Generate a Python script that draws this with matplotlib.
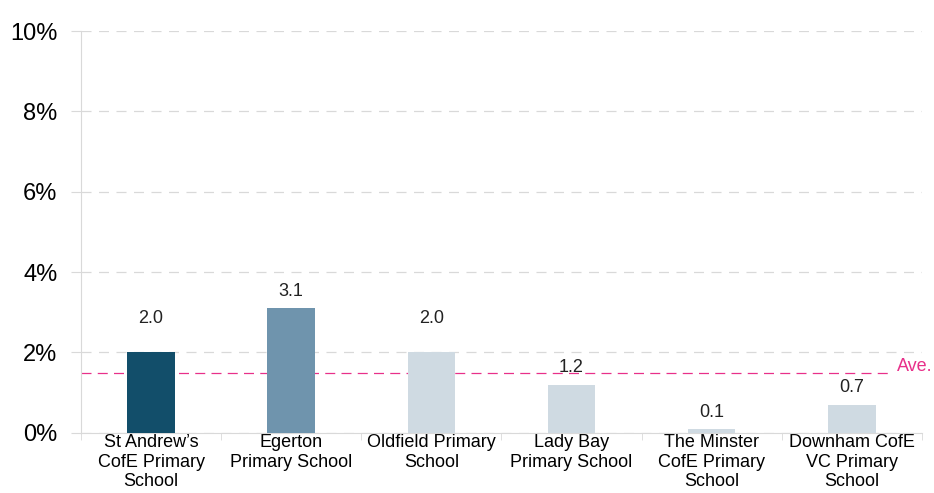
import matplotlib.pyplot as plt
from matplotlib.ticker import FuncFormatter

plt.rcParams['font.family'] = ['Liberation Sans', 'DejaVu Sans']

# data
schools = ["St Andrew\u2019s\nCofE Primary\nSchool", "Egerton\nPrimary School",
           "Oldfield Primary\nSchool", "Lady Bay\nPrimary School",
           "The Minster\nCofE Primary\nSchool", "Downham CofE\nVC Primary\nSchool"]
values = [2.0, 3.1, 2.0, 1.2, 0.1, 0.7]
colors = ['#124e6a', '#6f94ad', '#cfdae2', '#cfdae2', '#cfdae2', '#cfdae2']
average = 1.5

fig = plt.figure(figsize=(9.34, 4.93), dpi=100)
ax = fig.add_axes([0.0867, 0.122, 0.9003, 0.815])

x = range(len(values))
ax.bar(x, values, color=colors, width=0.34, zorder=3)
for i, v in zip(x, values):
    # labels that would sit on a gridline are lifted above it
    off = 18 if v == 2.0 else 6
    ax.annotate(f"{v:.1f}", (i, v), xytext=(0, off), textcoords='offset points',
                ha='center', va='bottom', fontsize=13, color='#222222')

ax.plot([-0.5, 5.27], [average, average], color='#e8308a', lw=0.9,
        dashes=(8, 5), zorder=2)
ax.text(5.32, average - 0.05, "Ave.", color='#e8308a', fontsize=13, ha='left',
        va='bottom')

ax.set_xlim(-0.5, 5.5)
ax.set_ylim(0, 10)
ax.set_yticks([0, 2, 4, 6, 8, 10])
ax.yaxis.set_major_formatter(FuncFormatter(lambda v, p: f"{v:.0f}%"))
ax.grid(axis='y', color='#d9d9d9', lw=0.9, dashes=(8, 6), zorder=0)

ax.set_xticks(list(x))
ax.set_xticklabels(schools, fontsize=13, linespacing=1.2)
ax.set_xticks([i - 0.5 for i in range(len(values) + 1)], minor=True)
ax.tick_params(axis='x', which='major', length=0, pad=1)
ax.tick_params(axis='x', which='minor', length=5, color='#d9d9d9')
ax.tick_params(axis='y', length=7, color='#d9d9d9', labelsize=17, pad=10)

for s in ['top', 'right']:
    ax.spines[s].set_visible(False)
ax.spines['left'].set_color('#d9d9d9')
ax.spines['bottom'].set_color('#d9d9d9')

fig.savefig('out.png', dpi=100)
